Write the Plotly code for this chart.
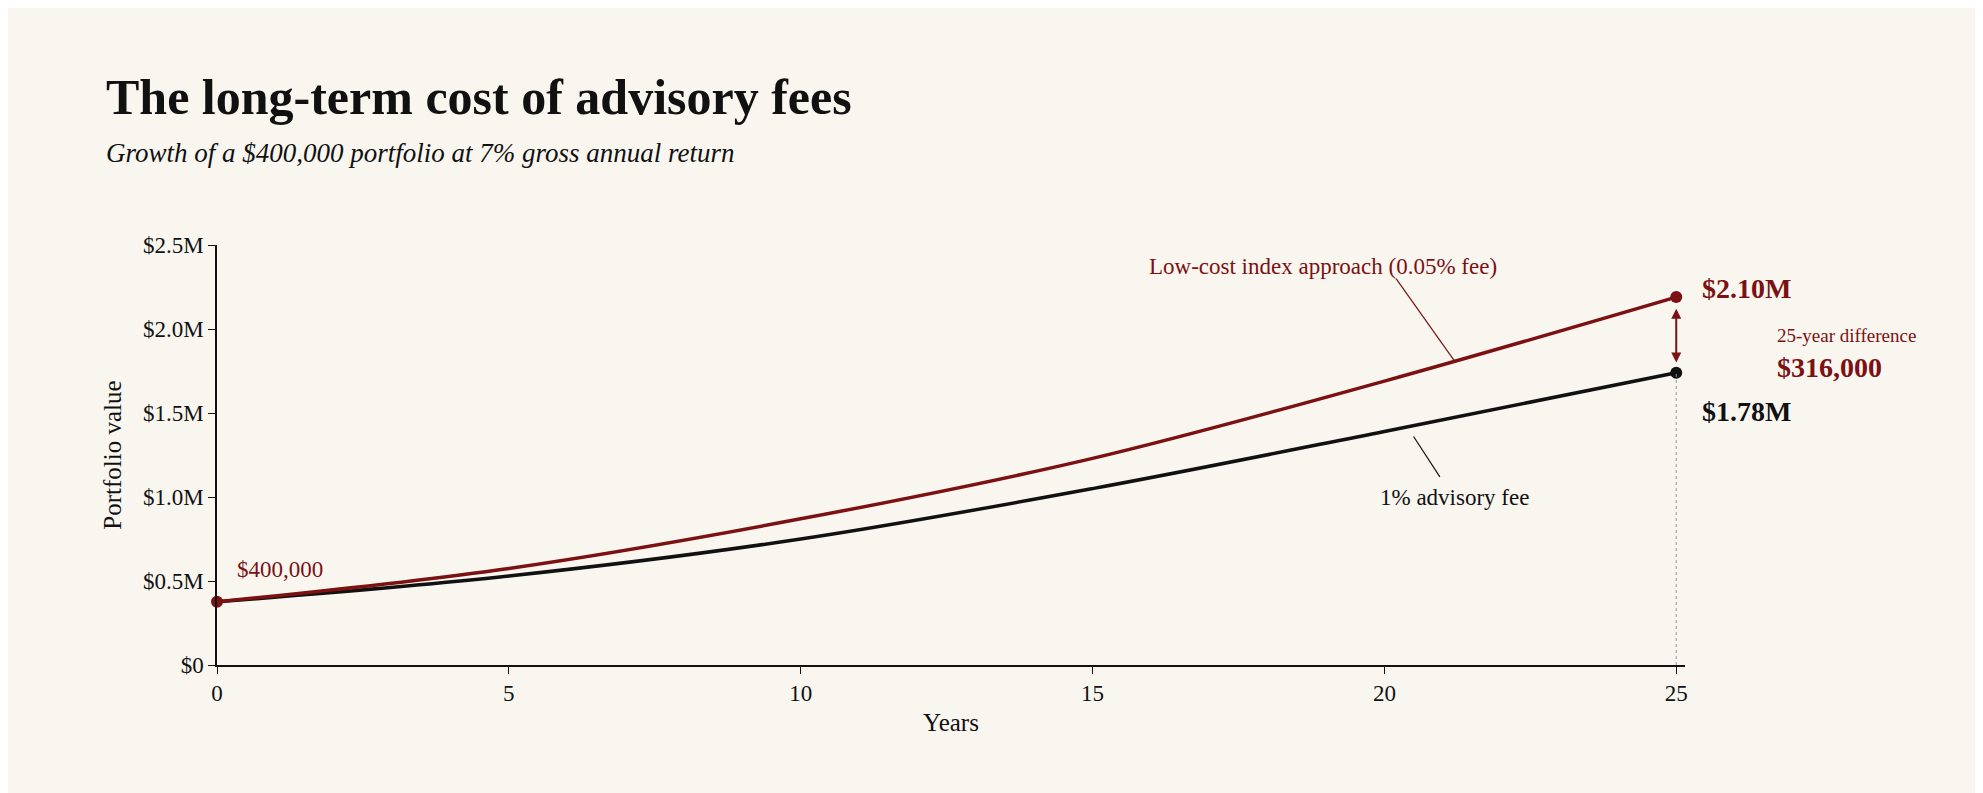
import plotly.graph_objects as go

# values (millions of dollars)
years = [0, 5, 10, 15, 20, 25]
low_cost = [0.376, 0.575, 0.87, 1.23, 1.69, 2.19]
advisory = [0.376, 0.53, 0.75, 1.05, 1.39, 1.74]
y_ticks = [0, 0.5, 1.0, 1.5, 2.0, 2.5]
y_labels = ["$0", "$0.5M", "$1.0M", "$1.5M", "$2.0M", "$2.5M"]

RED = "#7b1113"
BLACK = "#111111"
BG = "#f9f6f0"
FONT = "Liberation Serif"
X_MAX = 25.15

fig = go.Figure()

fig.add_trace(go.Scatter(x=years, y=advisory, mode="lines", line=dict(color=BLACK, width=3.5, shape="spline"),
                         hoverinfo="skip"))
fig.add_trace(go.Scatter(x=years, y=low_cost, mode="lines", line=dict(color=RED, width=3.5, shape="spline"),
                         hoverinfo="skip"))
# end points
fig.add_trace(go.Scatter(x=[years[0], years[-1]], y=[low_cost[0], low_cost[-1]], mode="markers",
                         marker=dict(color=RED, size=12), cliponaxis=False, hoverinfo="skip"))
fig.add_trace(go.Scatter(x=[years[-1]], y=[advisory[-1]], mode="markers",
                         marker=dict(color=BLACK, size=12), cliponaxis=False, hoverinfo="skip"))

# dotted drop line at year 25
fig.add_shape(type="line", x0=25, x1=25, y0=0, y1=advisory[-1], line=dict(color="#999999", width=1, dash="dot"))
# leader lines
fig.add_shape(type="line", x0=20.2, y0=2.30, x1=21.2, y1=1.81, line=dict(color=RED, width=1.2))
fig.add_shape(type="line", x0=20.5, y0=1.36, x1=20.95, y1=1.12, line=dict(color=BLACK, width=1.2))

ann = [
    dict(x=18.95, y=2.37, text="Low-cost index approach (0.05% fee)", font=dict(color=RED, size=23), xanchor="center"),
    dict(x=21.2, y=1.0, text="1% advisory fee", font=dict(color=BLACK, size=23), xanchor="center"),
    dict(x=0.3, y=0.57, text="$400,000", font=dict(color=RED, size=23), xanchor="left"),
]
for a in ann:
    fig.add_annotation(xref="x", yref="y", showarrow=False, yanchor="middle", **a)

# labels to the right of the plot area (paper x, data y)
right = [
    dict(x=25.4, y=2.24, text="<b>$2.10M</b>", font=dict(color=RED, size=28)),
    dict(x=25.4, y=1.51, text="<b>$1.78M</b>", font=dict(color=BLACK, size=28)),
    dict(x=26.7, y=1.96, text="25-year difference", font=dict(color=RED, size=19)),
    dict(x=26.7, y=1.77, text="<b>$316,000</b>", font=dict(color=RED, size=28)),
]
for a in right:
    a["x"] = a["x"] / X_MAX
    fig.add_annotation(xref="paper", yref="y", showarrow=False, xanchor="left", yanchor="middle", **a)

# double-headed difference arrow
fig.add_annotation(x=25, y=1.80, ax=25, ay=2.13, xref="x", yref="y", axref="x", ayref="y",
                   text="", showarrow=True, arrowhead=2, arrowside="end+start", arrowsize=1,
                   arrowwidth=2, arrowcolor=RED)

fig.add_annotation(xref="paper", yref="paper", x=-0.077, y=1.0 + 148 / 420, xanchor="left", yanchor="middle",
                   text="<b>The long-term cost of advisory fees</b>", showarrow=False,
                   font=dict(family=FONT, size=50, color=BLACK))
fig.add_annotation(xref="paper", yref="paper", x=-0.077, y=1.0 + 92 / 420, xanchor="left", yanchor="middle",
                   text="<i>Growth of a $400,000 portfolio at 7% gross annual return</i>", showarrow=False,
                   font=dict(family=FONT, size=27, color=BLACK))

fig.update_layout(
    width=1983, height=793,
    paper_bgcolor=BG, plot_bgcolor=BG,
    showlegend=False,
    font=dict(family=FONT, size=23, color=BLACK),
    margin=dict(l=209, r=306, t=237, b=136),
    xaxis=dict(range=[0, X_MAX], tickvals=[0, 5, 10, 15, 20, 25], showgrid=False, zeroline=False,
               showline=True, linecolor=BLACK, linewidth=1.5, ticks="outside", ticklen=7,
               tickcolor=BLACK, title=dict(text="Years", font=dict(size=25), standoff=8)),
    yaxis=dict(range=[0, 2.5], tickvals=y_ticks, ticktext=y_labels, showgrid=False, zeroline=False,
               showline=True, linecolor=BLACK, linewidth=1.5, ticks="outside", ticklen=7,
               tickcolor=BLACK, title=dict(text="Portfolio value", font=dict(size=25), standoff=14)),
)

fig.write_html("out.html")
